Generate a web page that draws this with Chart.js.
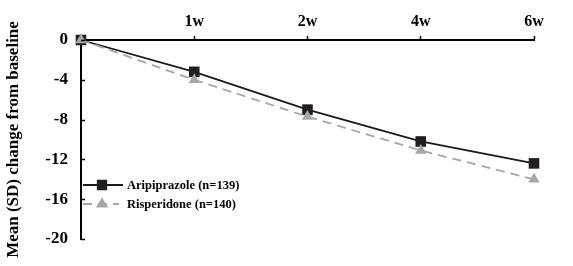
<!DOCTYPE html>
<html>
<head>
<meta charset="utf-8">
<script src="https://cdn.jsdelivr.net/npm/chart.js@4/dist/chart.umd.min.js"></script>
<style>
  html, body { margin: 0; padding: 0; background: #fff; }
  canvas { display: block; }
</style>
</head>
<body>
<canvas id="chart" width="573" height="266"></canvas>
<script>
// weeks from baseline (first point is the baseline itself, left unlabeled)
const weeks = ['', '1w', '2w', '4w', '6w'];
const aripiprazole = [0, -3.2, -7.0, -10.2, -12.4];
const risperidone = [0, -4.0, -7.7, -11.1, -14.0];
const yTicks = [0, -4, -8, -12, -16, -20];
const seriesNames = ['Aripiprazole (n=139)', 'Risperidone (n=140)'];

const serif = '"Liberation Serif", "Times New Roman", serif';

// little ticks on the y axis point into the plot, like the original
const innerTicks = {
    id: 'innerTicks',
    afterDraw(chart) {
        const ctx = chart.ctx;
        const y = chart.scales.y;
        ctx.save();
        ctx.strokeStyle = '#000';
        ctx.lineWidth = 1.5;
        yTicks.forEach(v => {
            const py = Math.round(y.getPixelForValue(v)) + 0.5;
            ctx.beginPath();
            ctx.moveTo(y.right, py);
            ctx.lineTo(y.right + 4, py);
            ctx.stroke();
        });
        ctx.restore();
    }
};

// legend sits inside the plot, bottom-left
const innerLegend = {
    id: 'innerLegend',
    afterDraw(chart) {
        const ctx = chart.ctx;
        const area = chart.chartArea;
        const x0 = area.left + 2;
        const rows = [area.top + 145, area.top + 164];
        ctx.save();
        chart.data.datasets.forEach((ds, i) => {
            const y = rows[i];
            ctx.strokeStyle = ds.borderColor;
            ctx.lineWidth = ds.borderWidth;
            ctx.setLineDash(ds.borderDash || []);
            ctx.beginPath();
            ctx.moveTo(x0, y);
            ctx.lineTo(x0 + (i === 0 ? 40 : 36), y);
            ctx.stroke();
            ctx.setLineDash([]);
            ctx.fillStyle = ds.pointBackgroundColor;
            ctx.strokeStyle = ds.pointBorderColor;
            Chart.helpers.drawPoint(ctx, {
                pointStyle: ds.pointStyle,
                radius: ds.pointRadius - 1.5,
                borderWidth: 1
            }, x0 + 19, y);
            ctx.fillStyle = '#000';
            ctx.font = 'bold 12.5px ' + serif;
            ctx.textBaseline = 'middle';
            ctx.fillText(ds.label, x0 + 44, y + 1);
        });
        ctx.restore();
    }
};

new Chart(document.getElementById('chart'), {
    type: 'line',
    data: {
        labels: weeks,
        datasets: [{
            label: seriesNames[0],
            data: aripiprazole,
            borderColor: '#1a1a1a',
            borderWidth: 1.8,
            pointStyle: 'rect',
            pointRadius: 7.5,
            pointBackgroundColor: '#231f20',
            pointBorderColor: '#231f20',
            pointBorderWidth: 0,
            tension: 0,
            clip: false,
            order: 1
        }, {
            label: seriesNames[1],
            data: risperidone,
            borderColor: '#a6a6a6',
            borderWidth: 1.8,
            borderDash: [9, 6],
            pointStyle: 'triangle',
            pointRadius: 6.5,
            pointBackgroundColor: '#a6a6a6',
            pointBorderColor: '#a6a6a6',
            pointBorderWidth: 0,
            tension: 0,
            clip: false,
            order: 0
        }]
    },
    options: {
        responsive: false,
        animation: false,
        layout: { padding: { left: 0, right: 39, top: 0, bottom: 27 } },
        plugins: {
            legend: { display: false },
            tooltip: { enabled: false }
        },
        scales: {
            x: {
                position: 'top',
                offset: false,
                afterFit(scale) { scale.height = 40; },
                border: { color: '#000', width: 2 },
                grid: {
                    drawOnChartArea: false,
                    tickLength: 4,
                    tickWidth: 1.5,
                    color: c => c.index === 0 ? 'rgba(0,0,0,0)' : '#000'
                },
                ticks: {
                    color: '#000',
                    padding: 5,
                    maxRotation: 0,
                    font: { family: serif, size: 16, weight: 'bold' }
                }
            },
            y: {
                min: -20,
                max: 0,
                afterFit(scale) { scale.width = 81; },
                afterBuildTicks(scale) { scale.ticks = yTicks.map(v => ({ value: v })); },
                border: { color: '#000', width: 2 },
                grid: { drawOnChartArea: false, drawTicks: false },
                ticks: {
                    color: '#000',
                    padding: 13,
                    font: { family: serif, size: 17, weight: 'bold' }
                },
                title: {
                    display: true,
                    text: 'Mean (SD) change from baseline',
                    color: '#000',
                    padding: { top: 3, bottom: 0 },
                    font: { family: serif, size: 17, weight: 'bold' }
                }
            }
        }
    },
    plugins: [innerTicks, innerLegend]
});
</script>
</body>
</html>
